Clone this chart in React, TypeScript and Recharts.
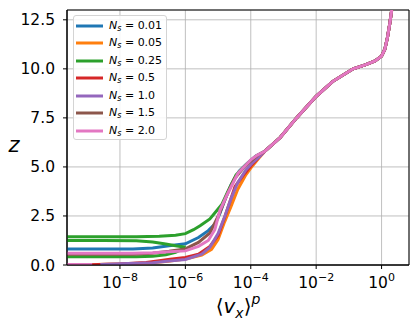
import React from 'react';
import { LineChart, Line, XAxis, YAxis, CartesianGrid, ReferenceArea } from 'recharts';

// x is log10(<v_x>^p), y is z. Profiles are parametric, so points are kept in path order.
const nsLabels = ['0.01', '0.05', '0.25', '0.5', '1.0', '1.5', '2.0'];
const colors = ['#1f77b4', '#ff7f0e', '#2ca02c', '#d62728', '#9467bd', '#8c564b', '#e377c2'];

// shared upper part where all curves collapse
const upperProfile = [
  [-3.57, 5.8], [-3.1, 6.5], [-2.6, 7.5], [-2.0, 8.6], [-1.5, 9.35],
  [-0.87, 10.0], [-0.5, 10.2], [-0.2, 10.4], [0.0, 10.65], [0.1, 11.0], [0.18, 11.6],
  [0.25, 12.3], [0.31, 13.0], [0.36, 13.6],
];

const ns001 = [
  [-10.5, 0.81], [-7.6, 0.81], [-7.0, 0.87], [-6.5, 0.98], [-6.0, 1.08], [-5.6, 1.4],
  [-5.3, 1.75], [-5.09, 2.1], [-4.95, 2.6], [-4.82, 3.2], [-4.6, 4.1], [-4.35, 4.8],
  [-4.1, 5.2], [-3.85, 5.55],
];
const ns005 = [
  [-8.7, 0.02], [-8.0, 0.05], [-7.2, 0.1], [-6.6, 0.18], [-6.0, 0.3], [-5.5, 0.5],
  [-5.2, 0.8], [-5.0, 1.3], [-4.8, 2.2], [-4.6, 3.0], [-4.4, 3.85], [-4.15, 4.6],
  [-3.95, 5.05], [-3.75, 5.45],
];
const ns025 = [
  [-10.5, 0.42], [-7.5, 0.42], [-7.0, 0.44], [-6.6, 0.52], [-6.3, 0.65], [-6.1, 0.8],
  [-6.05, 0.92], [-6.3, 0.98], [-6.6, 1.07], [-7.0, 1.17], [-7.5, 1.23], [-8.5, 1.25],
  [-10.5, 1.25], [-10.5, 1.44], [-7.5, 1.44], [-6.8, 1.47], [-6.3, 1.52], [-6.0, 1.6],
  [-5.75, 1.8], [-5.55, 2.0], [-5.25, 2.35], [-5.05, 2.75], [-4.88, 3.1], [-4.7, 3.75],
  [-4.45, 4.6], [-4.15, 5.1], [-3.85, 5.55],
];
const ns05 = [
  [-9.0, 0.01], [-8.0, 0.05], [-7.2, 0.13], [-6.8, 0.22], [-6.47, 0.3], [-6.0, 0.38],
  [-5.6, 0.55], [-5.25, 0.95], [-5.0, 1.5], [-4.79, 2.47], [-4.48, 4.0], [-4.18, 4.68],
  [-4.0, 5.05], [-3.75, 5.5],
];
const ns10 = [
  [-8.6, 0.03], [-8.0, 0.06], [-7.0, 0.12], [-6.5, 0.2], [-6.0, 0.28], [-5.5, 0.55],
  [-5.25, 0.9], [-5.0, 1.6], [-4.79, 2.5], [-4.6, 3.4], [-4.4, 4.2], [-4.15, 4.85],
  [-3.95, 5.2], [-3.75, 5.5],
];
const ns15 = [
  [-10.5, 0.55], [-7.6, 0.55], [-7.0, 0.6], [-6.5, 0.7], [-6.0, 0.82], [-5.6, 1.15],
  [-5.25, 1.63], [-4.95, 2.65], [-4.75, 3.5], [-4.5, 4.4], [-4.2, 5.0], [-4.0, 5.3],
  [-3.8, 5.58],
];
const ns20 = [
  [-8.85, 0.02], [-10.5, 0.02], [-10.5, 0.6], [-7.6, 0.6], [-7.0, 0.63], [-6.5, 0.68],
  [-6.0, 0.72], [-5.6, 0.95], [-5.3, 1.25], [-5.1, 1.8], [-4.94, 2.8], [-4.7, 3.66],
  [-4.39, 4.68], [-4.15, 5.1], [-4.0, 5.36], [-3.8, 5.6],
];

const profiles = [ns001, ns005, ns025, ns05, ns10, ns15, ns20];

const xTicks = [1e-8, 1e-6, 1e-4, 1e-2, 1];
const yTicks = [0, 2.5, 5, 7.5, 10, 12.5];
const X_MIN = 2.4e-10;
const X_MAX = 6.9;
const Y_MAX = 13;

const FONT = 'DejaVu Sans';

const series = profiles.map((p) =>
  [...p, ...upperProfile].map(([lg, z]) => ({ v: Math.pow(10, lg), z }))
);

const XTick = ({ x, y, payload }: any) => {
  const exp = Math.round(Math.log10(payload.value));
  const expStr = exp < 0 ? `\u2212${-exp}` : `${exp}`;
  return (
    <text x={x} y={y + 17} textAnchor="middle" fontFamily={FONT} fontSize={15.5} fill="#000">
      10
      <tspan dy={-7} fontSize={11}>{expStr}</tspan>
    </text>
  );
};

const XLabel = ({ viewBox }: any) => {
  const cx = viewBox.x + viewBox.width / 2;
  return (
    <text x={cx} y={313} textAnchor="middle" fontFamily={FONT} fontSize={20} fill="#000">
      {'\u27E8'}
      <tspan fontStyle="italic">v</tspan>
      <tspan fontStyle="italic" fontSize={14} dy={5}>x</tspan>
      <tspan dy={-5}>{'\u27E9'}</tspan>
      <tspan fontStyle="italic" fontSize={14} dy={-9}>p</tspan>
    </text>
  );
};

const YLabel = () => (
  <text x={14} y={152} textAnchor="middle" fontFamily={FONT} fontSize={21} fontStyle="italic" fill="#000">
    z
  </text>
);

function LegendBox() {
  return (
    <div
      style={{
        position: 'absolute',
        left: 73,
        top: 15,
        width: 94,
        height: 125,
        boxSizing: 'border-box',
        border: '1px solid #d4d4d4',
        borderRadius: 3,
        background: 'rgba(255,255,255,0.85)',
        fontFamily: FONT,
        fontSize: 11,
        color: '#000',
        paddingTop: 1,
      }}
    >
      {nsLabels.map((n, i) => (
        <div key={n} style={{ display: 'flex', alignItems: 'center', height: 17.5 }}>
          <svg width={34} height={6} style={{ marginLeft: 1 }}>
            <line x1={1} y1={3} x2={28} y2={3} stroke={colors[i]} strokeWidth={3} />
          </svg>
          <span style={{ whiteSpace: 'nowrap' }}>
            <i>N</i>
            <sub style={{ fontSize: 8, fontStyle: 'italic', verticalAlign: -2 }}>s</sub>
            {' = '}
            {n}
          </span>
        </div>
      ))}
    </div>
  );
}

export default function App() {
  return (
    <div style={{ position: 'absolute', left: 0, top: 0, width: 419, height: 327, background: '#fff' }}>
      <LineChart width={419} height={327} margin={{ top: 10, right: 10, bottom: 0, left: 0 }}>
        <CartesianGrid stroke="#b0b0b0" strokeWidth={0.8} />
        <XAxis
          dataKey="v"
          type="number"
          scale="log"
          domain={[X_MIN, X_MAX]}
          allowDataOverflow
          ticks={xTicks}
          interval={0}
          height={62}
          tickSize={4}
          tickLine={{ stroke: '#000' }}
          axisLine={{ stroke: '#000' }}
          tick={<XTick />}
          label={<XLabel />}
        />
        <YAxis
          dataKey="z"
          type="number"
          domain={[0, Y_MAX]}
          allowDataOverflow
          ticks={yTicks}
          interval={0}
          width={67}
          tickSize={4}
          tickMargin={8}
          tickLine={{ stroke: '#000' }}
          axisLine={{ stroke: '#000' }}
          tickFormatter={(v: number) => v.toFixed(1)}
          tick={{ fontFamily: FONT, fontSize: 15.5, fill: '#000' }}
          label={<YLabel />}
        />
        {series.map((d, i) => (
          <Line
            key={nsLabels[i]}
            data={d}
            dataKey="z"
            type="linear"
            stroke={colors[i]}
            strokeWidth={3}
            dot={false}
            isAnimationActive={false}
          />
        ))}
        <ReferenceArea x1={X_MIN} x2={X_MAX} y1={0} y2={Y_MAX} fill="none" stroke="#000" strokeWidth={1} />
      </LineChart>
      <LegendBox />
    </div>
  );
}
